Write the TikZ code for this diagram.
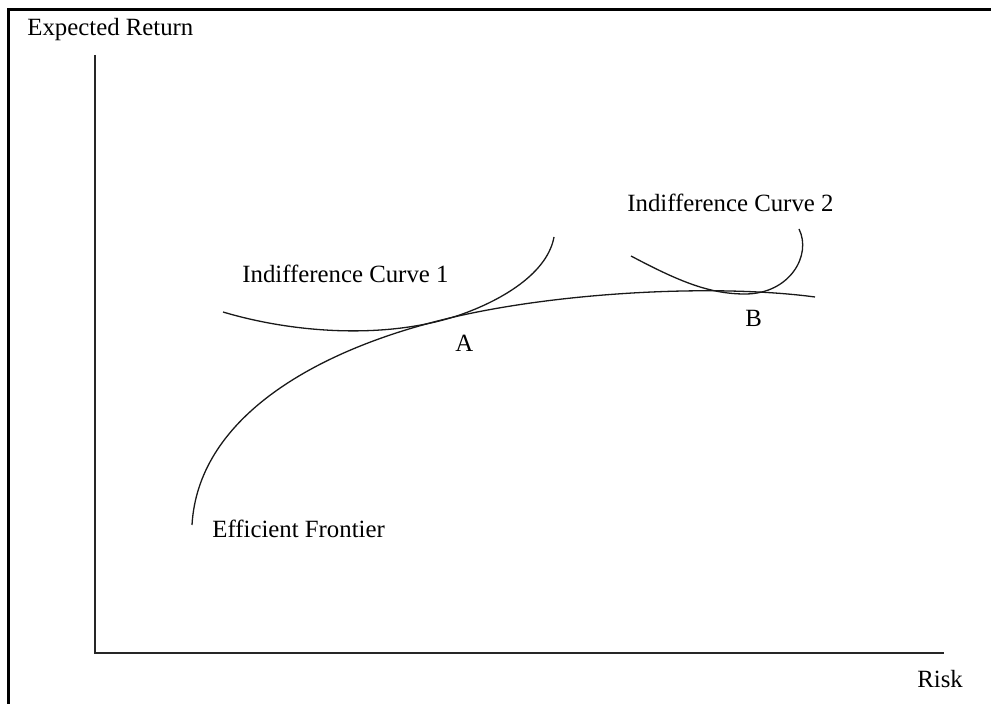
\documentclass[tikz,border=0pt]{standalone}
\usepackage{fontspec}
\setmainfont{Liberation Serif}
\usepackage{tikz}
\usetikzlibrary{positioning}

\begin{document}
\begin{tikzpicture}[
    x=0.5pt, y=-0.5pt,
    lbl/.style={inner sep=0pt, anchor=base west, font=\fontsize{12.4}{14}\selectfont},
    frame/.style={line width=1.5pt},
    axis/.style={line width=0.9pt, black!85},
    crv/.style={line width=0.65pt, black!90}
  ]
  \useasboundingbox (0,0) rectangle (991,704);

  % frame
  \draw[frame] (8.5,704) -- (8.5,9.5) -- (991,9.5);

  % axes
  \coordinate (ytop) at (95,55);
  \coordinate (origin) at (95,653);
  \coordinate (xend) at (944,653);
  \draw[axis] (ytop) -- (origin) -- (xend);
  \node[lbl] (ylab) at (27,36) {Expected Return};
  \node[lbl] (xlab) at (917,688) {Risk};

  % tangency points
  \coordinate (A) at (430,323);
  \coordinate (B) at (745,294);

  % efficient frontier
  \draw[crv] (192,525) .. controls (198,420) and (310,355) .. (A)
                       .. controls (540,293) and (710,283) .. (815,297);
  \node[lbl] (ef) at (212,538) {Efficient Frontier};

  % indifference curve 1
  \draw[crv] (223,312) .. controls (300,335) and (400,340) .. (473,310)
                       .. controls (510,295) and (548,270) .. (554,237);
  \node[lbl] (ic1) at (242,283) {Indifference Curve 1};
  \node[lbl] (la) at (455,352) {A};

  % indifference curve 2
  \draw[crv] (631,256) .. controls (680,282) and (710,294) .. (B)
                       .. controls (790,294) and (812,255) .. (799,229);
  \node[lbl] (ic2) at (627,212) {Indifference Curve 2};
  \node[lbl] (lb) at (745,327) {B};
\end{tikzpicture}
\end{document}
